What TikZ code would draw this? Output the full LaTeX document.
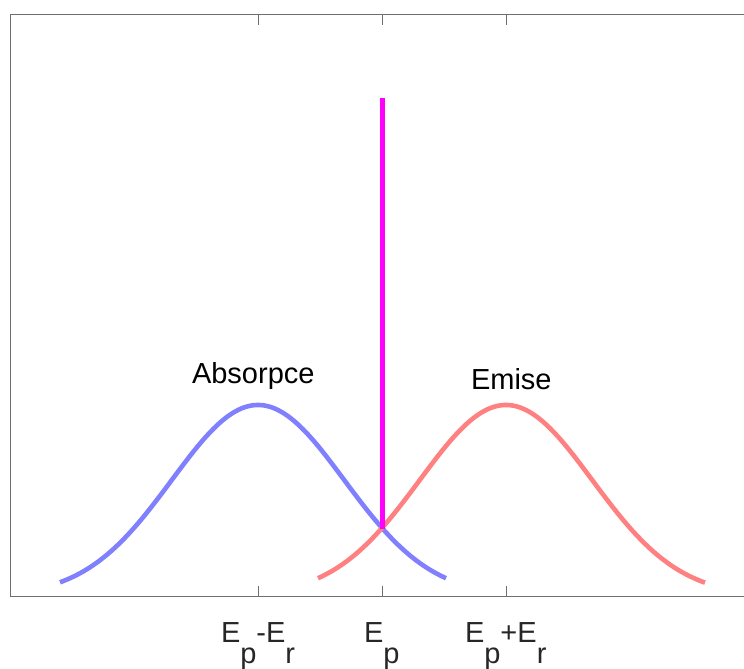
\documentclass[tikz,border=0pt]{standalone}
\usepackage{fontspec}
\setmainfont{Liberation Sans}
\definecolor{absblue}{RGB}{128,128,255}
\definecolor{emred}{RGB}{255,128,128}
\definecolor{peakmag}{RGB}{255,0,255}
\definecolor{axisgray}{RGB}{110,110,110}
\definecolor{ticktext}{RGB}{38,38,38}
\newcommand{\lowsub}[1]{\lower21pt\hbox{#1}}
\tikzset{
  axisline/.style={draw=axisgray, line width=1pt},
  curve/.style={line width=4.6pt, line cap=butt},
  lbl/.style={inner sep=0pt, outer sep=0pt, anchor=base west, font=\fontsize{29}{29}\selectfont},
  ticklbl/.style={lbl, text=ticktext},
}
\begin{document}
\begin{tikzpicture}[x=1pt, y=-1pt]
\useasboundingbox (0,0) rectangle (744,669);
% axes
\coordinate (tl) at (10,15);
\coordinate (tr) at (744,15);
\coordinate (bl) at (10,596);
\coordinate (br) at (744,596);
\draw[axisline] (tr) -- (tl) -- (bl) -- (br);
\foreach \t [count=\i] in {258,382,506}{
  \coordinate (tt\i) at (\t,15);
  \coordinate (tb\i) at (\t,596);
  \draw[axisline] (tt\i) -- ++(0,10);
  \draw[axisline] (tb\i) -- ++(0,-10);
}
% curves
\draw[curve, absblue] plot[domain=60:446, samples=120, smooth]
  (\x, {596 - 191*exp(-0.5*((\x-258)/86.3)^2)});
\draw[curve, emred] plot[domain=318:705, samples=120, smooth]
  (\x, {596 - 191*exp(-0.5*((\x-506)/86.3)^2)});
% peak line
\coordinate (ptop) at (382,98);
\coordinate (pbot) at (382,529);
\draw[peakmag, line width=5pt] (pbot) -- (ptop);
% annotations
\node[lbl] (abs) at (192,383) {Absorpce};
\node[lbl] (emi) at (471,389) {Emise};
% tick labels
\node[ticklbl] (lab1) at (221,642) {E\lowsub{p}-E\lowsub{r}};
\node[ticklbl] (lab2) at (364,642) {E\lowsub{p}};
\node[ticklbl] (lab3) at (465,642) {E\lowsub{p}+E\lowsub{r}};
\end{tikzpicture}
\end{document}
